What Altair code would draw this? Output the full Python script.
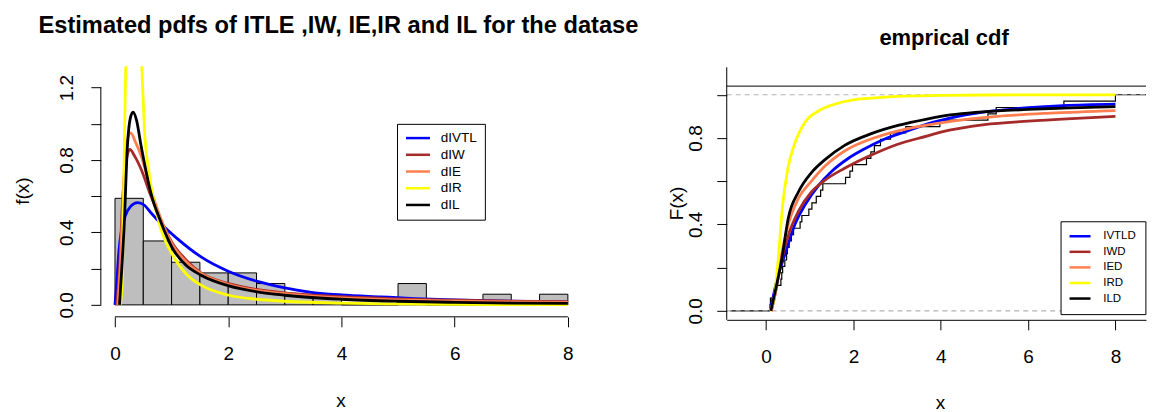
import altair as alt
import numpy as np
import pandas as pd

FONT = "Liberation Sans, Arial, Helvetica, sans-serif"

# ---------------- data ----------------
# observed sample (read from histogram + empirical cdf)
sample = [0.09, 0.10, 0.21, 0.23, 0.34, 0.36, 0.38, 0.43, 0.47, 0.49,
          0.53, 0.58, 0.63, 0.78, 0.82, 0.98,
          1.05, 1.15, 1.25, 1.30,
          1.82, 1.92, 1.98,
          2.30, 2.40, 2.48,
          2.62, 2.85,
          3.20, 3.98,
          5.08, 5.27,
          6.82, 8.00]
bin_edges = [0.0, 0.5, 1.0, 1.5, 2.0, 2.5, 3.0, 3.5, 4.0,
             4.5, 5.0, 5.5, 6.0, 6.5, 7.0, 7.5, 8.0]

pdf_names = ["dIVTL", "dIW", "dIE", "dIR", "dIL"]
cdf_names = ["IVTLD", "IWD", "IED", "IRD", "ILD"]
curve_colors = ["#0000FF", "#A52A2A", "#FF7F50", "#FFFF00", "#000000"]

# fitted densities (left panel)
ivtl_pdf_x = [0.0, 0.03, 0.07, 0.12, 0.18, 0.28, 0.40, 0.52, 0.63, 0.84, 1.10, 1.52,
              2.0, 2.5, 3.0, 3.5, 4.0, 4.7, 5.3, 6.0, 7.0, 8.0]
ivtl_pdf_y = [0.0, 0.12, 0.30, 0.42, 0.49, 0.545, 0.565, 0.55, 0.51, 0.44, 0.366, 0.265,
              0.186, 0.131, 0.094, 0.068, 0.055, 0.044, 0.035, 0.027, 0.020, 0.015]
iw_pdf_x = [0.03, 0.08, 0.13, 0.18, 0.26, 0.35, 0.46, 0.63, 0.81, 1.02, 1.25, 1.52,
            2.01, 2.5, 3.0, 4.0, 5.0, 6.0, 7.0, 8.0]
iw_pdf_y = [0.0, 0.2, 0.55, 0.75, 0.858, 0.82, 0.75, 0.605, 0.467, 0.338, 0.25, 0.176,
            0.117, 0.085, 0.066, 0.045, 0.033, 0.026, 0.021, 0.018]
ie_pdf_x = [0.05, 0.10, 0.15, 0.20, 0.28, 0.36, 0.46, 0.63, 0.81, 1.02, 1.25, 1.52,
            2.01, 2.5, 3.0, 4.0, 5.0, 6.0, 7.0, 8.0]
ie_pdf_y = [0.0, 0.25, 0.65, 0.88, 0.95, 0.90, 0.825, 0.64, 0.476, 0.33, 0.24, 0.173,
            0.112, 0.08, 0.062, 0.038, 0.027, 0.02, 0.016, 0.013]
ir_pdf_x = [0.09, 0.12, 0.135, 0.153, 0.17, 0.19, 0.25, 0.32, 0.40, 0.476, 0.52, 0.60,
            0.69, 0.81, 1.02, 1.28, 1.52, 2.01, 2.5, 3.0, 4.0, 5.0, 6.0, 8.0]
ir_pdf_y = [0.0, 0.08, 0.24, 0.60, 0.97, 1.30, 2.0, 2.3, 1.9, 1.30, 0.97, 0.733,
            0.568, 0.42, 0.274, 0.164, 0.109, 0.053, 0.031, 0.02, 0.01, 0.005, 0.003, 0.001]
il_pdf_x = [0.08, 0.12, 0.16, 0.22, 0.27, 0.32, 0.38, 0.46, 0.63, 0.81, 1.02, 1.25,
            1.52, 2.01, 2.51, 3.0, 4.0, 5.0, 6.0, 7.0, 8.0]
il_pdf_y = [0.0, 0.2, 0.42, 0.88, 1.03, 1.064, 1.02, 0.88, 0.623, 0.457, 0.31, 0.22,
            0.164, 0.105, 0.072, 0.053, 0.031, 0.02, 0.014, 0.01, 0.008]

# fitted cdfs (right panel)
ivtl_cdf_x = [0.1, 0.24, 0.43, 0.66, 0.89, 1.2, 1.5, 1.88, 2.26, 2.72, 3.2, 3.7,
              4.4, 5.2, 6.0, 6.8, 8.0]
ivtl_cdf_y = [0.0, 0.135, 0.26, 0.40, 0.49, 0.58, 0.645, 0.705, 0.75, 0.795, 0.83, 0.865,
              0.9, 0.925, 0.94, 0.95, 0.957]
iw_cdf_x = [0.12, 0.2, 0.32, 0.51, 0.74, 1.04, 1.35, 1.8, 2.4, 3.0, 3.7, 4.0,
            5.0, 6.0, 7.0, 8.0]
iw_cdf_y = [0.0, 0.07, 0.2, 0.35, 0.46, 0.55, 0.605, 0.66, 0.72, 0.77, 0.81, 0.827,
            0.862, 0.878, 0.89, 0.9]
ie_cdf_x = [0.12, 0.2, 0.32, 0.51, 0.74, 1.04, 1.35, 1.8, 2.4, 3.0, 4.0, 5.3, 6.5, 8.0]
ie_cdf_y = [0.0, 0.07, 0.22, 0.40, 0.52, 0.6, 0.67, 0.74, 0.795, 0.832, 0.87, 0.9,
            0.915, 0.927]
ir_cdf_x = [0.09, 0.2, 0.28, 0.38, 0.5, 0.65, 0.9, 1.2, 1.6, 2.0, 2.5, 3.0, 4.0, 5.0, 8.0]
ir_cdf_y = [0.0, 0.08, 0.24, 0.49, 0.66, 0.77, 0.875, 0.925, 0.958, 0.976, 0.986,
            0.993, 0.997, 0.999, 1.0]
il_cdf_x = [0.11, 0.2, 0.36, 0.51, 0.74, 1.04, 1.35, 1.8, 2.41, 3.02, 3.71, 4.0,
            5.3, 6.0, 6.8, 8.0]
il_cdf_y = [0.0, 0.08, 0.24, 0.43, 0.55, 0.64, 0.70, 0.766, 0.82, 0.858, 0.889, 0.9,
            0.925, 0.932, 0.938, 0.945]

ecdf_tail_x = [-0.82, 8.91]     # extent of the ecdf's flat outer pieces
ref_levels = [0.0, 1.0]         # gray dashed reference lines

# ---------------- tables ----------------
n = len(sample)
counts, _ = np.histogram(sample, bins=bin_edges)
widths = np.diff(bin_edges)
hist_df = pd.DataFrame({"start": bin_edges[:-1], "end": bin_edges[1:],
                        "density": counts / (n * widths)})

pdf_sets = [(ivtl_pdf_x, ivtl_pdf_y), (iw_pdf_x, iw_pdf_y), (ie_pdf_x, ie_pdf_y),
            (ir_pdf_x, ir_pdf_y), (il_pdf_x, il_pdf_y)]
cdf_sets = [(ivtl_cdf_x, ivtl_cdf_y), (iw_cdf_x, iw_cdf_y), (ie_cdf_x, ie_cdf_y),
            (ir_cdf_x, ir_cdf_y), (il_cdf_x, il_cdf_y)]
pdf_df = pd.concat([pd.DataFrame({"x": xx, "y": yy, "series": nm})
                    for nm, (xx, yy) in zip(pdf_names, pdf_sets)], ignore_index=True)
cdf_df = pd.concat([pd.DataFrame({"x": xx, "y": yy, "series": nm})
                    for nm, (xx, yy) in zip(cdf_names, cdf_sets)], ignore_index=True)

uniq, cnt = np.unique(np.sort(sample), return_counts=True)
Fvals = np.cumsum(cnt) / n
ecdf_df = pd.DataFrame({"x": np.concatenate([[uniq[0]], uniq]),
                        "F": np.concatenate([[0.0], Fvals])})
ecdf_df["i"] = np.arange(len(ecdf_df))
tail_df = pd.DataFrame({"x": [ecdf_tail_x[0], uniq[-1]], "x2": [uniq[0], ecdf_tail_x[1]],
                        "y": [0.0, 1.0]})
ref_df = pd.DataFrame({"y": ref_levels})
one = pd.DataFrame({"k": [0]})

# ---------------- left panel ----------------
LW, LH = 486, 251
xs_l = alt.Scale(domain=[-0.25, 8.32], nice=False, zero=False)
ys_l = alt.Scale(domain=[-0.066, 1.3175], nice=False, zero=False)

x_axis_l = alt.Axis(values=[0, 2, 4, 6, 8], domain=False, grid=False, tickSize=10,
                    tickColor="black", labelFontSize=19, labelColor="black",
                    labelPadding=27, labelBaseline="middle", labelFlush=False,
                    labelOverlap=False, format="d",
                    title="x", titleFontSize=19, titleFontWeight="normal",
                    titleColor="black", titleX=240, titleY=84,
                    titleBaseline="middle", titleAlign="center")
y_axis_l = alt.Axis(values=[0, 0.2, 0.4, 0.6, 0.8, 1.0, 1.2], domain=False, grid=False,
                    tickSize=10, tickColor="black", labelFontSize=19, labelColor="black",
                    labelAngle=270, labelAlign="center", labelBaseline="middle",
                    labelPadding=24, labelFlush=False, labelOverlap=False,
                    labelExpr="(datum.value == 0 || datum.value == 0.4 || datum.value == 0.8 || datum.value == 1.2) ? format(datum.value, '.1f') : ''",
                    title="f(x)", titleFontSize=19, titleFontWeight="normal",
                    titleColor="black", titleAngle=270, titleX=-78.5, titleY=124.5,
                    titleBaseline="middle", titleAlign="center")

legend_l = alt.Legend(title=None, orient="none", legendX=296.7, legendY=57.7,
                      fillColor="white", strokeColor="black", padding=7.5,
                      symbolType="M-3,0H3", symbolSize=64, symbolStrokeWidth=2.5,
                      symbolOffset=6.75, labelOffset=16, labelFontSize=13.5,
                      labelFont=FONT, labelColor="black", rowPadding=1.75, labelLimit=300)

hist = alt.Chart(hist_df).mark_rect(fill="#BEBEBE", stroke="black", strokeWidth=1).encode(
    x=alt.X("start:Q", scale=xs_l, axis=x_axis_l),
    x2="end:Q",
    y=alt.Y("density:Q", scale=ys_l, axis=y_axis_l),
    y2=alt.datum(0),
)

pdf_layers = []
for nm in pdf_names:
    pdf_layers.append(
        alt.Chart(pdf_df).transform_filter(alt.datum.series == nm)
        .mark_line(clip=True, strokeWidth=2.8, interpolate="monotone")
        .encode(x=alt.X("x:Q", scale=xs_l, axis=x_axis_l),
                y=alt.Y("y:Q", scale=ys_l, axis=y_axis_l),
                color=alt.Color("series:N",
                                scale=alt.Scale(domain=pdf_names, range=curve_colors),
                                legend=legend_l))
    )

yline_l = alt.Chart(one).mark_rule(color="black", strokeWidth=1).encode(
    x=alt.value(0), y=alt.datum(0), y2=alt.datum(1.2))
xline_l = alt.Chart(one).mark_rule(color="black", strokeWidth=1).encode(
    y=alt.value(LH), x=alt.datum(0), x2=alt.datum(8))

left = alt.layer(hist, *pdf_layers, yline_l, xline_l).properties(
    width=LW, height=LH,
    title=alt.TitleParams("Estimated pdfs of ITLE ,IW, IE,IR and IL for the datase",
                          fontSize=23.7, fontWeight="bold", font=FONT, color="black",
                          anchor="middle", dx=-5, dy=23, offset=33, baseline="alphabetic",
                          frame="group"),
)

# ---------------- right panel ----------------
RW, RH = 420, 254
xs_r = alt.Scale(domain=[-0.9, 8.7], nice=False, zero=False)
ys_r = alt.Scale(domain=[-0.0415, 1.132], nice=False, zero=False)

x_axis_r = alt.Axis(values=[0, 2, 4, 6, 8], domain=True, domainColor="black", grid=False,
                    tickSize=10, tickColor="black", labelFontSize=19, labelColor="black",
                    labelPadding=26.7, labelBaseline="middle", labelFlush=False,
                    labelOverlap=False, format="d",
                    title="x", titleFontSize=19, titleFontWeight="normal",
                    titleColor="black", titleX=213.7, titleY=82.5,
                    titleBaseline="middle", titleAlign="center")
y_axis_r = alt.Axis(values=[0, 0.2, 0.4, 0.6, 0.8, 1.0], domain=False, grid=False,
                    tickSize=10, tickColor="black", labelFontSize=19, labelColor="black",
                    labelAngle=270, labelAlign="center", labelBaseline="middle",
                    labelPadding=21.6, labelFlush=False, labelOverlap=False,
                    labelExpr="(datum.value == 0 || datum.value == 0.4 || datum.value == 0.8) ? format(datum.value, '.1f') : ''",
                    title="F(x)", titleFontSize=19, titleFontWeight="normal",
                    titleColor="black", titleAngle=270, titleX=-50.3, titleY=137,
                    titleBaseline="middle", titleAlign="center")

legend_r = alt.Legend(title=None, orient="none", legendX=334.4, legendY=155.3,
                      fillColor="white", strokeColor="black", padding=9.25,
                      symbolType="M-3,0H3", symbolSize=49, symbolStrokeWidth=2.5,
                      symbolOffset=4.5, labelOffset=17.5, labelFontSize=11.5,
                      labelFont=FONT, labelColor="black", rowPadding=2.6, labelLimit=300)

ecdf_line = alt.Chart(ecdf_df).mark_line(color="black", strokeWidth=1.2,
                                         interpolate="step-after", clip=True).encode(
    x=alt.X("x:Q", scale=xs_r, axis=x_axis_r),
    y=alt.Y("F:Q", scale=ys_r, axis=y_axis_r),
    order="i:Q",
)
tails = alt.Chart(tail_df).mark_rule(color="black", strokeWidth=1.2, clip=True).encode(
    x=alt.X("x:Q", scale=xs_r, axis=x_axis_r), x2="x2:Q",
    y=alt.Y("y:Q", scale=ys_r, axis=y_axis_r))
refs = alt.Chart(ref_df).mark_rule(color="#B3B3B3", strokeWidth=1.2,
                                   strokeDash=[5, 4]).encode(
    y=alt.Y("y:Q", scale=ys_r, axis=y_axis_r), x=alt.value(0), x2=alt.value(RW))

cdf_layers = []
for nm in cdf_names:
    cdf_layers.append(
        alt.Chart(cdf_df).transform_filter(alt.datum.series == nm)
        .mark_line(clip=True, strokeWidth=2.8, interpolate="monotone")
        .encode(x=alt.X("x:Q", scale=xs_r, axis=x_axis_r),
                y=alt.Y("y:Q", scale=ys_r, axis=y_axis_r),
                color=alt.Color("series:N",
                                scale=alt.Scale(domain=cdf_names, range=curve_colors),
                                legend=legend_r))
    )

box_left = alt.Chart(one).mark_rule(color="black", strokeWidth=1).encode(
    x=alt.value(0), y=alt.value(RH), y2=alt.datum(1.04))
box_top = alt.Chart(one).mark_rule(color="black", strokeWidth=1).encode(
    y=alt.datum(1.04), x=alt.value(0), x2=alt.value(RW))

right = alt.layer(ecdf_line, tails, refs, *cdf_layers, box_left, box_top).properties(
    width=RW, height=RH,
    title=alt.TitleParams("emprical cdf", fontSize=22, fontWeight="bold", font=FONT,
                          color="black", anchor="middle", dx=7.7, dy=19, offset=18,
                          baseline="alphabetic", frame="group"),
)

chart = alt.hconcat(left, right, spacing=141, bounds="flush").resolve_scale(
    color="independent", x="independent", y="independent"
).properties(
    padding={"left": 5, "top": 5, "right": 2, "bottom": 0}
).configure(font=FONT).configure_view(stroke=None)

chart.save("out.html", embed_options={"renderer": "svg", "actions": False})
